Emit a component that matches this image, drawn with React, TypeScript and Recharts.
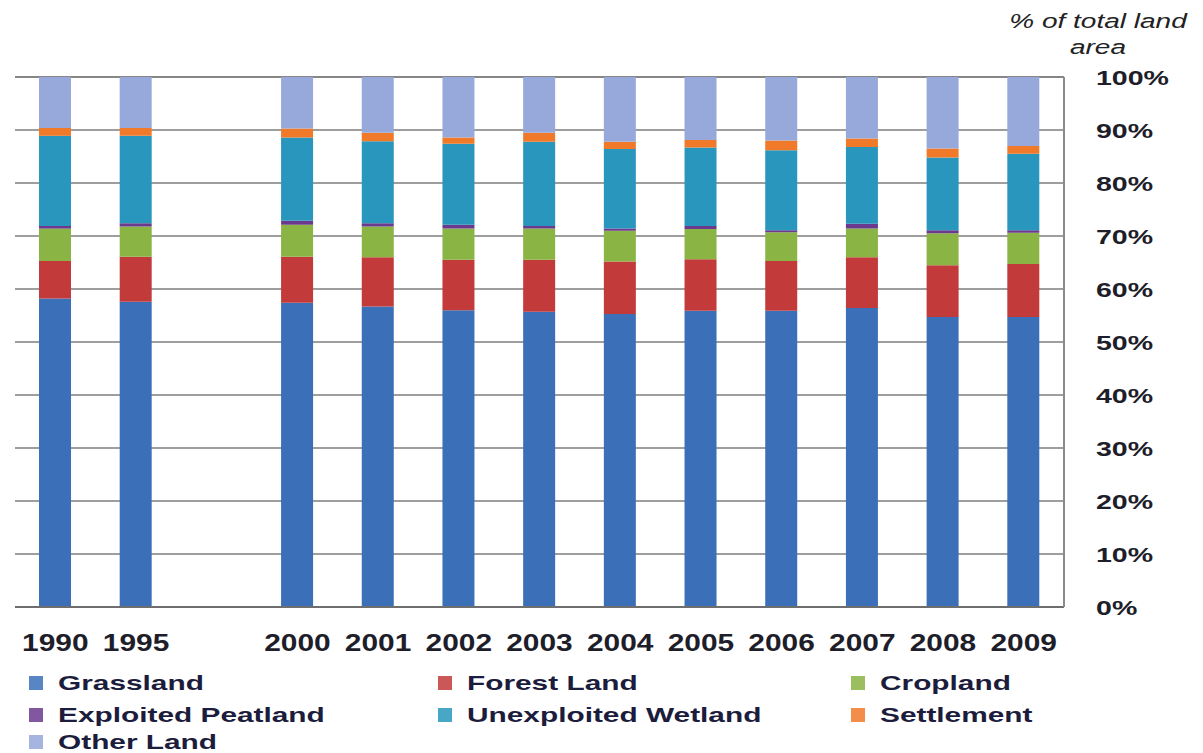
import React from "react";
import { BarChart, Bar, XAxis, YAxis, CartesianGrid } from "recharts";

// years shown on the axis; the blank slot keeps the 1995–2000 gap
const years = ["1990", "1995", "", "2000", "2001", "2002", "2003", "2004", "2005", "2006", "2007", "2008", "2009"];

// share of total land area (%) per land-use class
const grassland = [58.2, 57.6, null, 57.4, 56.7, 56.0, 55.7, 55.3, 55.9, 55.9, 56.4, 54.7, 54.7];
const forestLand = [7.1, 8.5, null, 8.7, 9.3, 9.5, 9.8, 9.9, 9.7, 9.4, 9.6, 9.8, 10.0];
const cropland = [6.1, 5.7, null, 6.0, 5.8, 5.9, 5.9, 5.8, 5.7, 5.4, 5.4, 6.0, 5.9];
const exploitedPeatland = [0.5, 0.6, null, 0.8, 0.6, 0.7, 0.5, 0.4, 0.6, 0.4, 0.9, 0.6, 0.5];
const unexploitedWetland = [17.0, 16.5, null, 15.7, 15.5, 15.3, 15.9, 15.0, 14.8, 15.1, 14.5, 13.7, 14.4];
const settlement = [1.5, 1.5, null, 1.7, 1.6, 1.2, 1.7, 1.4, 1.4, 1.8, 1.6, 1.7, 1.5];
const otherLand = [9.6, 9.6, null, 9.7, 10.5, 11.4, 10.5, 12.2, 11.9, 12.0, 11.6, 13.5, 13.0];

const yTicks = [0, 10, 20, 30, 40, 50, 60, 70, 80, 90, 100];

const series = [
  { key: "grassland", name: "Grassland", color: "#3B70B8", values: grassland },
  { key: "forest", name: "Forest Land", color: "#C23A3A", values: forestLand },
  { key: "cropland", name: "Cropland", color: "#8AB443", values: cropland },
  { key: "peatland", name: "Exploited Peatland", color: "#6B3A8E", values: exploitedPeatland },
  { key: "wetland", name: "Unexploited Wetland", color: "#2896BD", values: unexploitedWetland },
  { key: "settlement", name: "Settlement", color: "#F07A2A", values: settlement },
  { key: "other", name: "Other Land", color: "#97A8DB", values: otherLand },
];

const data = years.map((year, i) => {
  const row: Record<string, any> = { year };
  series.forEach((s) => {
    if (s.values[i] != null) row[s.key] = s.values[i];
  });
  return row;
});

// legend order, laid out in three columns
const legendOrder = ["grassland", "forest", "cropland", "peatland", "wetland", "settlement", "other"];
const legendCols = [21, 430, 843];
const legendRows = [675, 707, 734];

const FONT = '"Liberation Sans", Arial, sans-serif';

const XTick = (props: any) => {
  const { x, y, payload } = props;
  return (
    <g transform={`translate(${x},${y})`}>
      <text
        transform="scale(1.3,1)"
        textAnchor="middle"
        y={44}
        fontSize={23}
        fontWeight="bold"
        fontFamily={FONT}
        fill="#1e1e2a"
      >
        {payload.value}
      </text>
    </g>
  );
};

const YTick = (props: any) => {
  const { x, y, payload } = props;
  return (
    <g transform={`translate(${x},${y})`}>
      <text
        transform="scale(1.36,1)"
        textAnchor="start"
        y={8}
        fontSize={21}
        fontWeight="bold"
        fontFamily={FONT}
        fill="#1e1e2a"
      >
        {payload.value}%
      </text>
    </g>
  );
};

export default function App() {
  return (
    <div style={{ position: "relative", width: 1195, height: 745, background: "#fff", fontFamily: FONT }}>
      <div
        style={{
          position: "absolute",
          left: 990,
          top: 0,
          width: 200,
          textAlign: "center",
          fontStyle: "italic",
          fontSize: 20,
          lineHeight: "26px",
          color: "#222",
          transform: "scaleX(1.4)",
        }}
      >
        % of total land
        <br />
        area
      </div>
      <BarChart
        width={1195}
        height={745}
        data={data}
        margin={{ top: 69, right: 0, bottom: 106, left: 7 }}
        barSize={32}
      >
        <CartesianGrid vertical={false} stroke="#7e7e7e" strokeWidth={1.5} />
        <XAxis
          dataKey="year"
          height={40}
          tickLine={false}
          tickSize={0}
          tickMargin={0}
          axisLine={{ stroke: "#6e6e6e", strokeWidth: 2 }}
          tick={<XTick />}
          interval={0}
        />
        <YAxis
          orientation="right"
          width={139}
          domain={[0, 100]}
          ticks={yTicks}
          tickLine={false}
          tickSize={0}
          tickMargin={32}
          axisLine={{ stroke: "#8a8a8a", strokeWidth: 2 }}
          tick={<YTick />}
          interval={0}
        />
        {series.map((s) => (
          <Bar key={s.key} dataKey={s.key} name={s.name} stackId="land" fill={s.color} isAnimationActive={false} />
        ))}
      </BarChart>
      {legendOrder.map((key, i) => {
        const s = series.find((d) => d.key === key)!;
        const col = legendCols[i % 3];
        const row = legendRows[Math.floor(i / 3)];
        return (
          <div
            key={key}
            style={{ position: "absolute", left: col, top: row - 12, height: 24, display: "flex", alignItems: "center" }}
          >
            <span style={{ width: 14, height: 14, background: s.color, opacity: 0.85, display: "inline-block" }} />
            <span
              style={{
                marginLeft: 15,
                fontSize: 21,
                lineHeight: "22px",
                fontWeight: "bold",
                color: "#1c1c3c",
                whiteSpace: "nowrap",
                transform: "scaleX(1.42)",
                transformOrigin: "left center",
                display: "inline-block",
              }}
            >
              {s.name}
            </span>
          </div>
        );
      })}
    </div>
  );
}
